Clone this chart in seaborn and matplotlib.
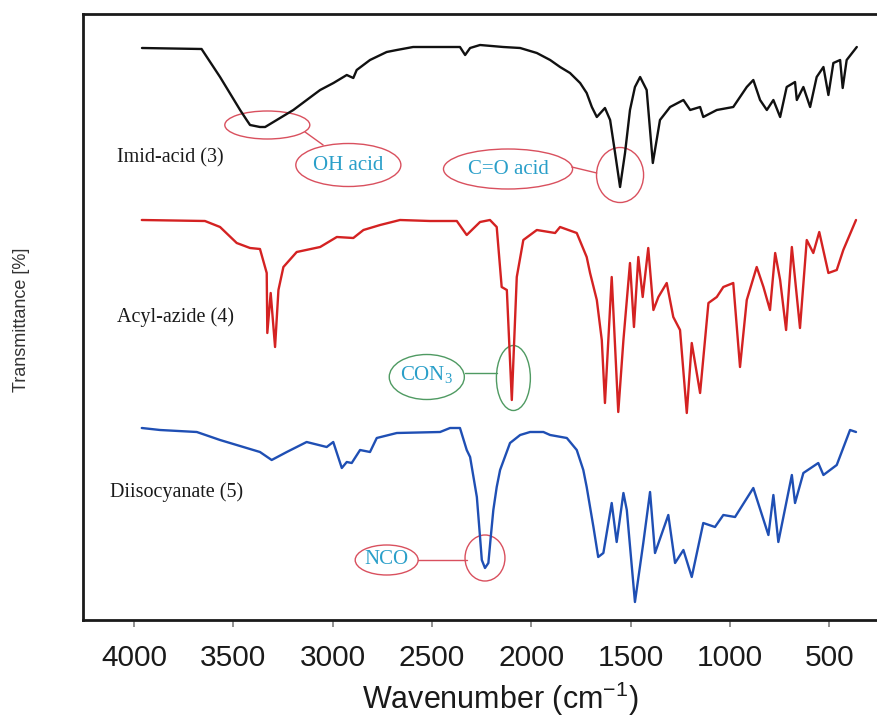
import matplotlib
matplotlib.use("Agg")
import matplotlib.pyplot as plt
from matplotlib.patches import Ellipse
import seaborn as sns
import pandas as pd

# ---------------- data ----------------
wn_ticks = [4000, 3500, 3000, 2500, 2000, 1500, 1000, 500]

imid_wn = [3960, 3660, 3567, 3466, 3433, 3416, 3366, 3340, 3198, 3097, 3063, 2996, 2929, 2896,
           2879, 2812, 2728, 2677, 2595, 2359, 2333, 2308, 2258, 2141, 2056, 1972, 1905, 1855,
           1805, 1754, 1721, 1695, 1670, 1629, 1603, 1578, 1553, 1528, 1503, 1478, 1452,
           1419, 1388, 1352, 1301, 1234, 1200, 1150, 1134, 1066, 983, 915, 882, 848, 814, 781,
           747, 714, 672, 663, 630, 596, 563, 529, 504, 479, 445, 432, 412, 361]
imid_t = [571, 570, 542, 509, 499, 494, 492, 492, 509, 524, 529, 536, 544, 541,
          549, 559, 567, 569, 572, 572, 564, 571, 574, 572, 571, 566, 559, 552,
          546, 536, 526, 512, 502, 511, 499, 466, 432, 466, 509, 532, 542,
          529, 456, 499, 512, 519, 509, 512, 502, 509, 512, 532, 539, 519, 509, 519,
          502, 532, 537, 519, 532, 512, 542, 552, 524, 556, 559, 531, 559, 572]

azide_wn = [3961, 3643, 3567, 3483, 3416, 3366, 3332, 3329, 3312, 3290, 3273, 3248, 3181, 3063,
            2979, 2896, 2845, 2761, 2661, 2510, 2375, 2325, 2258, 2208, 2174, 2149, 2123, 2098,
            2073, 2040, 1972, 1880, 1855, 1771, 1721, 1704, 1670, 1645, 1629, 1595, 1562, 1536,
            1503, 1483, 1461, 1439, 1411, 1385, 1360, 1318, 1285, 1251, 1217, 1192, 1150, 1108,
            1066, 1033, 983, 949, 915, 865, 831, 798, 772, 747, 717, 688, 647, 613, 580, 550,
            504, 462, 429, 365]
azide_t = [399, 398, 392, 376, 371, 370, 346, 286, 326, 272, 329, 352, 367, 372,
           382, 381, 389, 394, 399, 398, 398, 384, 397, 399, 392, 332, 329, 219,
           342, 379, 389, 386, 392, 386, 362, 346, 319, 279, 216, 342, 207, 279,
           356, 292, 362, 322, 371, 309, 322, 336, 302, 289, 206, 276, 226, 316,
           322, 332, 336, 252, 319, 352, 332, 309, 366, 339, 289, 372, 291, 379, 366, 387,
           346, 349, 369, 399]

diiso_wn = [3961, 3869, 3684, 3567, 3433, 3366, 3307, 3231, 3131, 3030, 2997, 2954, 2929, 2904,
            2862, 2812, 2778, 2677, 2459, 2409, 2359, 2325, 2308, 2291, 2274, 2258, 2249, 2233,
            2216, 2204, 2191, 2174, 2157, 2107, 2056, 2006, 1939, 1905, 1821, 1771, 1738, 1721,
            1687, 1663, 1637, 1595, 1570, 1536, 1519, 1478, 1436, 1402, 1377, 1310, 1276, 1234,
            1192, 1134, 1075, 1033, 974, 882, 806, 781, 756, 688, 672, 630, 555, 529, 462, 395, 365]
diiso_t = [191, 189, 187, 179, 171, 167, 159, 167, 177, 172, 177, 151, 157, 156,
           169, 167, 181, 186, 187, 191, 191, 169, 162, 142, 122, 82, 59, 51,
           56, 82, 109, 132, 149, 176, 184, 187, 187, 184, 181, 169, 149, 132,
           92, 62, 66, 116, 77, 126, 109, 17, 76, 127, 66, 104, 56, 69,
           42, 96, 92, 104, 102, 131, 84, 124, 77, 144, 116, 146, 156, 144, 154, 189, 187]

series_names = ["Imid-acid (3)", "Acyl-azide (4)", "Diisocyanate (5)"]
series_colors = ["#111111", "#d42222", "#1f4fb4"]

# ---------------- figure ----------------
sns.set_theme(style="white")
plt.rcParams["font.family"] = ["Liberation Sans", "DejaVu Sans"]

W, H = 877, 719
fig = plt.figure(figsize=(W / 100, H / 100), dpi=100)
ax = fig.add_axes([83 / W, 1 - 620 / H, (885 - 83) / W, (620 - 14) / H])

for wn, t, c in zip([imid_wn, azide_wn, diiso_wn], [imid_t, azide_t, diiso_t], series_colors):
    df = pd.DataFrame({"wn": wn, "t": t})
    sns.lineplot(data=df, x="wn", y="t", color=c, lw=1.7, ax=ax, estimator=None, sort=False)

ax.set_xlim(4257, 219)
ax.set_ylim(-1, 605)
ax.set_xticks(wn_ticks)
ax.set_xticklabels([str(v) for v in wn_ticks])
ax.set_yticks([])
ax.tick_params(axis="x", direction="out", length=5, width=1.3, color="#888888",
               pad=12.5, labelsize=21.5, labelcolor="#1a1a1a", bottom=True)
for lab in ax.get_xticklabels():
    lab.set_family("Liberation Sans")
for s in ["left", "top", "bottom", "right"]:
    ax.spines[s].set_visible(True)
    ax.spines[s].set_color("#1a1a1a")
    ax.spines[s].set_linewidth(2.0)
ax.grid(False)

ax.set_xlabel(r"Wavenumber (cm$^{\mathregular{-1}}$)", fontsize=22, color="#1a1a1a",
              family="Liberation Sans")
ax.xaxis.set_label_coords((500 - 83) / 802, -0.098)
ax.set_ylabel("")
fig.text(22 / W, 1 - 320 / H, "Transmittance [%]", rotation=90, ha="center", va="center",
         fontsize=13, color="#333333", family="Liberation Sans")

# ---------------- annotations ----------------
serif = "Liberation Serif"
lab_wn = [4087, 4087, 4121]
lab_t = [461, 302, 127]
for name, x, y in zip(series_names, lab_wn, lab_t):
    ax.text(x, y, name, ha="left", va="center", fontsize=14.5, family=serif, color="#1a1a1a")

red_ec = "#d9505e"
green_ec = "#4f9a62"
txt_c = "#2a9fc9"

def ell(x, y, w, h, ec):
    ax.add_patch(Ellipse((x, y), w, h, fill=False, ec=ec, lw=1.0))

def link(x0, x1, y0, y1, ec):
    ax.plot([x0, x1], [y0, y1], color=ec, lw=1.0)

# OH acid
ell(3329, 494, 428, 28, red_ec)
link(3139, 3048, 487, 474, red_ec)
ell(2921, 454, 529, 43, red_ec)
ax.text(2921, 454, "OH acid", ha="center", va="center", fontsize=15, family=serif, color=txt_c)

# C=O acid
ell(2117, 450, 650, 40, red_ec)
link(1796, 1670, 452, 446, red_ec)
ell(1553, 444, 237, 55, red_ec)
ax.text(2117, 450, "C=O acid", ha="center", va="center", fontsize=15, family=serif, color=txt_c)

# CON3
ell(2526, 242, 378, 45, green_ec)
link(2333, 2174, 246, 246, green_ec)
ell(2090, 241, 171, 65, green_ec)
ax.text(2526, 244, r"CON$_{\mathregular{3}}$", ha="center", va="center", fontsize=15,
        family=serif, color=txt_c)

# NCO
ell(2728, 59, 317, 30, red_ec)
link(2570, 2325, 59, 59, red_ec)
ell(2233, 61, 201, 46, red_ec)
ax.text(2728, 59, "NCO", ha="center", va="center", fontsize=15, family=serif, color=txt_c)

fig.savefig("out.png", dpi=100)
